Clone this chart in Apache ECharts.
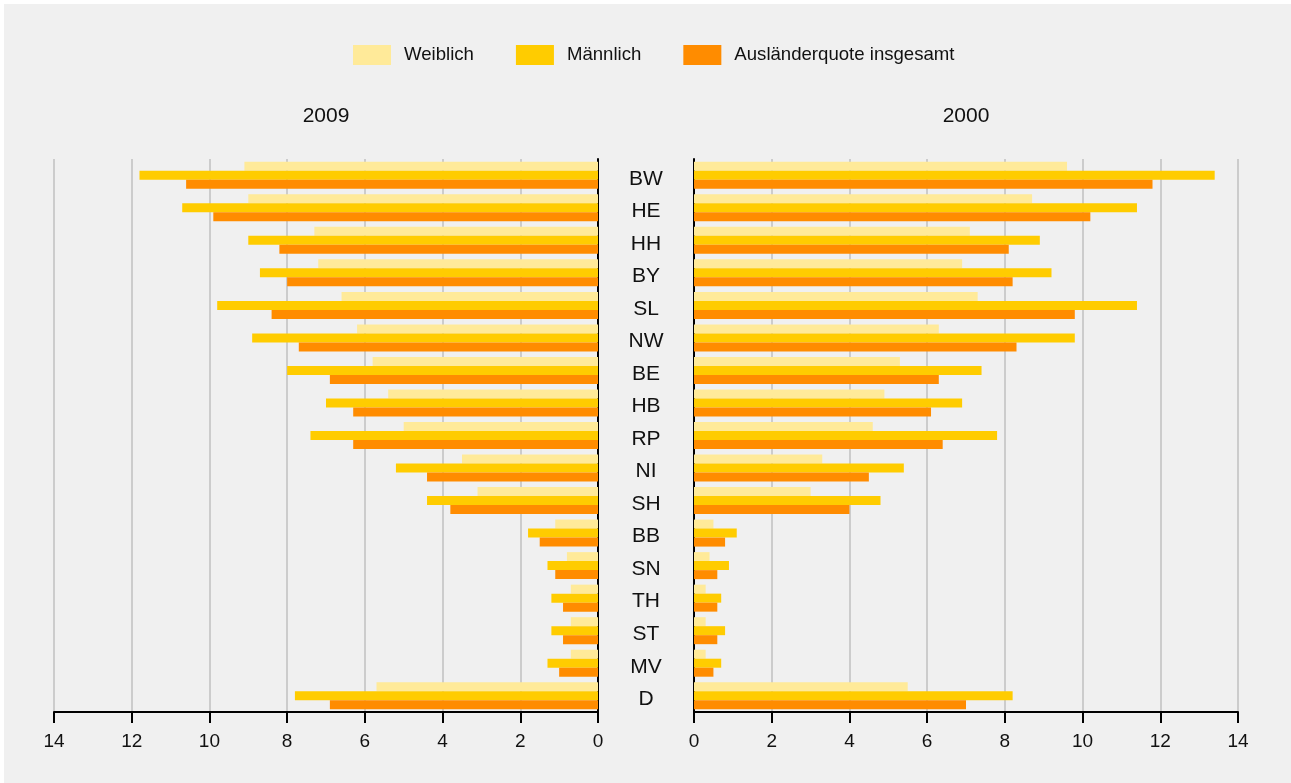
<!DOCTYPE html>
<html>
<head>
<meta charset="utf-8">
<script src="https://cdn.jsdelivr.net/npm/echarts@6/dist/echarts.min.js"></script>
<style>
html,body{margin:0;padding:0;background:#ffffff;}
#chart{position:absolute;left:4px;top:4px;width:1287px;height:779px;background:#f0f0f0;}
</style>
</head>
<body>
<div id="chart"></div>
<script>
var categories = ['BW','HE','HH','BY','SL','NW','BE','HB','RP','NI','SH','BB','SN','TH','ST','MV','D'];
var seriesNames = ['Weiblich','Männlich','Ausländerquote insgesamt'];
var yearTitles = ['2009','2000'];
var w2009 = [9.1,9.0,7.3,7.2,6.6,6.2,5.8,5.4,5.0,3.5,3.1,1.1,0.8,0.7,0.7,0.7,5.7];
var m2009 = [11.8,10.7,9.0,8.7,9.8,8.9,8.0,7.0,7.4,5.2,4.4,1.8,1.3,1.2,1.2,1.3,7.8];
var t2009 = [10.6,9.9,8.2,8.0,8.4,7.7,6.9,6.3,6.3,4.4,3.8,1.5,1.1,0.9,0.9,1.0,6.9];
var w2000 = [9.6,8.7,7.1,6.9,7.3,6.3,5.3,4.9,4.6,3.3,3.0,0.5,0.4,0.3,0.3,0.3,5.5];
var m2000 = [13.4,11.4,8.9,9.2,11.4,9.8,7.4,6.9,7.8,5.4,4.8,1.1,0.9,0.7,0.8,0.7,8.2];
var t2000 = [11.8,10.2,8.1,8.2,9.8,8.3,6.3,6.1,6.4,4.5,4.0,0.8,0.6,0.6,0.6,0.5,7.0];
var xMin = 0, xMax = 14, xStep = 2;

var colors = ['#ffea99','#ffcc00','#ff8c00'];
var FONT = 'Liberation Sans, Arial, sans-serif';

var chart = echarts.init(document.getElementById('chart'), null, {renderer:'canvas'});

function xAxisDef(gridIndex, inverse){
  return {
    type:'value', gridIndex:gridIndex, min:xMin, max:xMax, interval:xStep, inverse:inverse,
    axisLine:{show:true, lineStyle:{color:'#000', width:2}},
    axisTick:{show:true, length:11, lineStyle:{color:'#000', width:2}},
    axisLabel:{show:true, margin:20, fontSize:19, color:'#111', fontFamily:FONT},
    splitLine:{show:true, lineStyle:{color:'#cccccc', width:2}}
  };
}
function barSeries(name, data, idx, gi){
  return {
    name:name, type:'bar', xAxisIndex:gi, yAxisIndex:gi, data:data,
    barWidth:9, barGap:'0%', itemStyle:{color:colors[idx]}, silent:true, animation:false
  };
}

var option = {
  animation:false,
  backgroundColor:'#f0f0f0',
  color:colors,
  legend:{
    data:seriesNames, left:344, top:36, itemWidth:38, itemHeight:20, itemGap:42,
    icon:'rect',
    textStyle:{fontSize:18.6, color:'#111', fontFamily:FONT, padding:[0,0,0,8]}
  },
  title:[
    {text:yearTitles[0], left:322, top:102, textAlign:'center', padding:0,
     textStyle:{fontSize:21, fontWeight:'normal', color:'#111', fontFamily:FONT}},
    {text:yearTitles[1], left:962, top:102, textAlign:'center', padding:0,
     textStyle:{fontSize:21, fontWeight:'normal', color:'#111', fontFamily:FONT}}
  ],
  grid:[
    {left:50, width:544, top:155, height:553},
    {left:690, width:544, top:155, height:553}
  ],
  xAxis:[xAxisDef(0, true), xAxisDef(1, false)],
  yAxis:[
    {type:'category', gridIndex:0, data:categories, inverse:true, position:'right',
     axisLine:{show:true, onZero:false, lineStyle:{color:'#000', width:2}},
     axisTick:{show:false}, axisLabel:{show:false}, splitLine:{show:false}},
    {type:'category', gridIndex:1, data:categories, inverse:true, position:'left',
     axisLine:{show:true, onZero:false, lineStyle:{color:'#000', width:2}},
     axisTick:{show:false},
     axisLabel:{show:true, margin:48, align:'center', color:'#111',
       formatter:function(v){ return '{c|' + v + '}'; },
       rich:{c:{fontSize:21, color:'#111', fontFamily:FONT, padding:[7,0,0,0]}}},
     splitLine:{show:false}}
  ],
  series:[
    barSeries(seriesNames[0], w2009, 0, 0),
    barSeries(seriesNames[1], m2009, 1, 0),
    barSeries(seriesNames[2], t2009, 2, 0),
    barSeries(seriesNames[0], w2000, 0, 1),
    barSeries(seriesNames[1], m2000, 1, 1),
    barSeries(seriesNames[2], t2000, 2, 1)
  ]
};
chart.setOption(option);
</script>
</body>
</html>
